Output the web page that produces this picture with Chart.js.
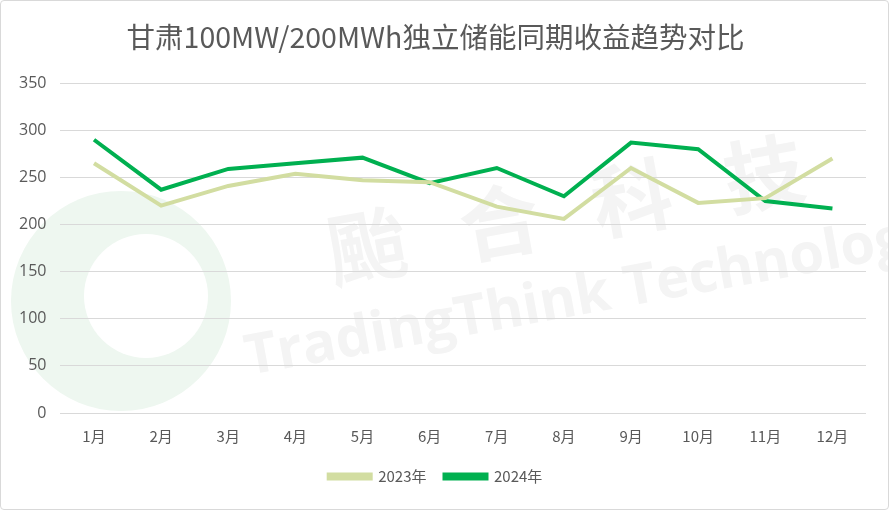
<!DOCTYPE html>
<html>
<head>
<meta charset="utf-8">
<script src="https://cdn.jsdelivr.net/npm/chart.js@4.4.1/dist/chart.umd.min.js"></script>
<style>
  html, body { margin: 0; padding: 0; background: #fff; }
  .box {
    position: absolute; left: 0; top: 0;
    width: 887px; height: 508px;
    border: 1px solid #d9d9d9; border-radius: 4px;
  }
  canvas { display: block; }
</style>
</head>
<body>
<div class="box"><canvas id="myChart" width="887" height="508"></canvas></div>
<script>
const months = ["1月", "2月", "3月", "4月", "5月", "6月", "7月", "8月", "9月", "10月", "11月", "12月"];
const rev2023 = [265, 220, 241, 254, 247, 245, 219, 206, 260, 223, 228, 270];
const rev2024 = [290, 237, 259, 265, 271, 244, 260, 230, 287, 280, 225, 217];
const yTicks = [0, 50, 100, 150, 200, 250, 300, 350];

const font = '"Noto Sans CJK SC", "Open Sans", sans-serif';
const grey = "#595959";

// faint watermark behind the plot
const watermark = {
  id: "watermark",
  beforeDraw(chart) {
    const c = chart.ctx;
    c.save();
    c.fillStyle = "#eef7f0";
    c.beginPath();
    c.arc(120, 300, 110, 0, Math.PI * 2);
    c.fill();
    c.fillStyle = "#ffffff";
    c.beginPath();
    c.arc(145, 295, 62, 0, Math.PI * 2);
    c.fill();
    c.translate(560, 240);
    c.rotate(-0.18);
    c.fillStyle = "#f4f4f4";
    c.font = "bold 80px " + font;
    c.textAlign = "center";
    c.fillText("颱   合   科   技", 10, -30);
    c.font = "bold 56px 'Open Sans', sans-serif";
    c.fillText("TradingThink Technology", 20, 60);
    c.restore();
  },
};

new Chart(document.getElementById("myChart"), {
  type: "line",
  data: {
    labels: months,
    datasets: [
      {
        label: "2023年",
        data: rev2023,
        borderColor: "#d2dda1",
        backgroundColor: "#d2dda1",
        borderWidth: 4,
        pointRadius: 0,
        tension: 0,
      },
      {
        label: "2024年",
        data: rev2024,
        borderColor: "#00b050",
        backgroundColor: "#00b050",
        borderWidth: 4,
        pointRadius: 0,
        tension: 0,
      },
    ],
  },
  options: {
    responsive: false,
    animation: false,
    layout: { padding: { left: 4, right: 22, top: 13, bottom: 15 } },
    plugins: {
      title: {
        display: true,
        text: "甘肃100MW/200MWh独立储能同期收益趋势对比",
        color: grey,
        font: { family: font, size: 28.5, weight: "normal" },
        padding: { top: 6, bottom: 29 },
      },
      legend: {
        display: true,
        position: "bottom",
        labels: {
          color: grey,
          font: { family: font, size: 15 },
          boxWidth: 42,
          boxHeight: 4,
          padding: 18,
        },
      },
      tooltip: { enabled: false },
    },
    scales: {
      x: {
        offset: true,
        grid: { display: false },
        border: { display: false },
        ticks: { color: grey, font: { family: font, size: 15 }, padding: 6 },
      },
      y: {
        min: 0,
        max: 350,
        afterBuildTicks: (axis) => {
          axis.ticks = yTicks.map((v) => ({ value: v }));
        },
        grid: { color: "#d9d9d9", drawTicks: false },
        border: { display: false },
        ticks: { color: grey, font: { family: "'Open Sans', sans-serif", size: 16 }, padding: 14 },
      },
    },
  },
  plugins: [watermark],
});
</script>
</body>
</html>
